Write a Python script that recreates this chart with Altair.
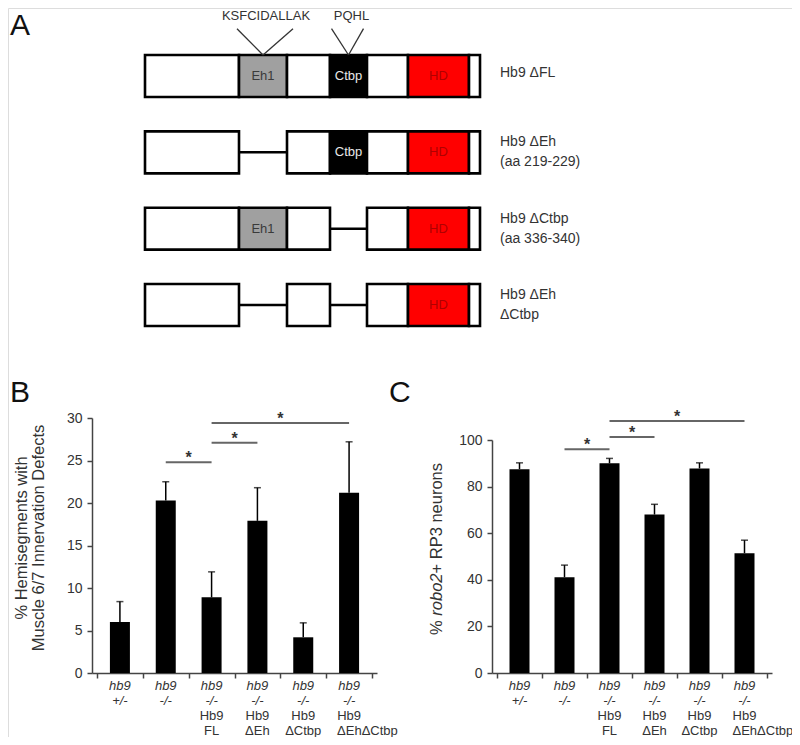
import altair as alt
import pandas as pd

# ---------------- Panel A: Hb9 constructs (schematic units along the protein) ----------------
construct_labels = ["Hb9 ΔFL", "Hb9 ΔEh\n(aa 219-229)", "Hb9 ΔCtbp\n(aa 336-340)", "Hb9 ΔEh\nΔCtbp"]
eh1_deleted = [False, True, False, True]
ctbp_deleted = [False, False, True, True]
piece_names = ["N", "Eh1", "L1", "Ctbp", "L2", "HD", "C"]
piece_starts = [0, 94, 142, 185, 222, 263, 324]
piece_ends = [94, 142, 185, 222, 263, 324, 335]
motif_texts = ["KSFCIDALLAK", "PQHL"]
motif_domains = ["Eh1", "Ctbp"]

# ---------------- Panels B and C ----------------
genotype_top = ["hb9"] * 6
genotype_bottom = ["+/-", "-/-", "-/-", "-/-", "-/-", "-/-"]
transgene_top = ["", "", "Hb9", "Hb9", "Hb9", "Hb9"]
transgene_bottom = ["", "", "FL", "ΔEh", "ΔCtbp", "ΔEhΔCtbp"]
b_means = [6.0, 20.3, 8.9, 17.9, 4.2, 21.2]
b_errors = [2.4, 2.2, 3.0, 3.9, 1.7, 6.0]
c_means = [87.5, 41.1, 90.0, 68.0, 87.8, 51.4]
c_errors = [2.7, 5.2, 2.1, 4.4, 2.4, 5.6]
sig_from = [1, 2, 2]
sig_to = [2, 3, 5]
b_sig_levels = [24.8, 27.1, 29.4]
c_sig_levels = [96.0, 101.3, 108.2]
b_ticks = [0, 5, 10, 15, 20, 25, 30]
c_ticks = [0, 20, 40, 60, 80, 100]

# ---------------- styles / layout ----------------
W, H = 784, 729
FONT = "Liberation Sans"
TXT = "#333333"
AX = "#444444"
BOX_HALF = 0.275
fills = {"N": "#ffffff", "Eh1": "#a0a0a0", "L1": "#ffffff", "Ctbp": "#000000",
         "L2": "#ffffff", "HD": "#ff0000", "C": "#ffffff"}
text_colors = {"Eh1": "#3a3a3a", "Ctbp": "#e8e8e8", "HD": "#b00000"}
motif_arms = {"KSFCIDALLAK": (26, 30), "PQHL": (17, 15)}
LONG_LABEL = 7  # labels longer than this are left-anchored (overflowing Excel-style labels)

xA = alt.Scale(domain=[0, 335], range=[137, 472])
yA = alt.Scale(domain=[0, 3], range=[68, 297])

pieces, gaps = [], []
for r in range(4):
    for name, s, e in zip(piece_names, piece_starts, piece_ends):
        deleted = (name == "Eh1" and eh1_deleted[r]) or (name == "Ctbp" and ctbp_deleted[r])
        if deleted:
            gaps.append({"row": r, "s": s, "e": e})
        else:
            pieces.append({"row": r, "s": s, "e": e, "mid": (s + e) / 2,
                           "top": r - BOX_HALF, "bot": r + BOX_HALF,
                           "fill": fills[name],
                           "label": name if name in text_colors else "",
                           "tcolor": text_colors.get(name, "#000000")})
pieces_df = pd.DataFrame(pieces)
gaps_df = pd.DataFrame(gaps)

motif_lines, motif_labels = [], []
for t, d in zip(motif_texts, motif_domains):
    k = piece_names.index(d)
    c = (piece_starts[k] + piece_ends[k]) / 2
    lft, rgt = motif_arms[t]
    motif_lines.append({"x": c - lft, "y": -0.62, "x2": c, "y2": -BOX_HALF})
    motif_lines.append({"x": c + rgt, "y": -0.62, "x2": c, "y2": -BOX_HALF})
    motif_labels.append({"x": c + 3, "y": -0.79, "t": t})
motif_lines_df = pd.DataFrame(motif_lines)
motif_labels_df = pd.DataFrame(motif_labels)
construct_df = pd.DataFrame({"row": list(range(4)), "label": construct_labels, "x": [355] * 4})
construct_df["multi"] = construct_df["label"].str.contains("\n")

noax = None
boxes = alt.Chart(pieces_df).mark_rect(stroke="black", strokeWidth=2.6).encode(
    x=alt.X("s:Q", scale=xA, axis=noax), x2="e:Q",
    y=alt.Y("top:Q", scale=yA, axis=noax), y2="bot:Q",
    fill=alt.Color("fill:N", scale=None))
gap_lines = alt.Chart(gaps_df).mark_rule(color="black", strokeWidth=2.5).encode(
    x=alt.X("s:Q", scale=xA, axis=noax), x2="e:Q",
    y=alt.Y("row:Q", scale=yA, axis=noax))
domain_text = alt.Chart(pieces_df[pieces_df["label"] != ""]).mark_text(
    fontSize=13, font=FONT, baseline="middle").encode(
    x=alt.X("mid:Q", scale=xA, axis=noax), y=alt.Y("row:Q", scale=yA, axis=noax),
    text="label:N", color=alt.Color("tcolor:N", scale=None))
motif_rules = alt.Chart(motif_lines_df).mark_rule(color="#333333", strokeWidth=1.3).encode(
    x=alt.X("x:Q", scale=xA, axis=noax), x2="x2:Q",
    y=alt.Y("y:Q", scale=yA, axis=noax), y2="y2:Q")
motif_text = alt.Chart(motif_labels_df).mark_text(
    fontSize=13, font=FONT, color=TXT, baseline="middle").encode(
    x=alt.X("x:Q", scale=xA, axis=noax), y=alt.Y("y:Q", scale=yA, axis=noax), text="t:N")
cl = dict(fontSize=14, font=FONT, color=TXT, align="left", baseline="middle",
          lineBreak="\n", lineHeight=20)
construct_single = alt.Chart(construct_df[~construct_df["multi"]]).mark_text(dy=-3, **cl).encode(
    x=alt.X("x:Q", scale=xA, axis=noax), y=alt.Y("row:Q", scale=yA, axis=noax), text="label:N")
construct_multi = alt.Chart(construct_df[construct_df["multi"]]).mark_text(dy=-10, **cl).encode(
    x=alt.X("x:Q", scale=xA, axis=noax), y=alt.Y("row:Q", scale=yA, axis=noax), text="label:N")
one = pd.DataFrame({"k": [0]})
letter_A = alt.Chart(one).mark_text(text="A", fontSize=30, font=FONT, color="#111111",
                                    align="left", baseline="alphabetic").encode(
    x=alt.value(2), y=alt.value(27))

panel_A = alt.layer(boxes, gap_lines, domain_text, motif_rules, motif_text,
                    construct_single, construct_multi, letter_A)


def bar_panel(means, errors, levels, ticks, x0, x1, y_top, letter, letter_x, title_layers):
    Y0 = 665
    xs = alt.Scale(domain=[-0.5, 5.5], range=[x0, x1])
    ys = alt.Scale(domain=[0, ticks[-1]], range=[Y0, y_top])
    x_axis = alt.Axis(orient="bottom", offset=-(H - Y0), values=[i - 0.5 for i in range(7)],
                      labels=False, title=None, grid=False, tickSize=5, tickWidth=1.5,
                      tickColor=AX, domainColor=AX, domainWidth=1.5)
    y_axis = alt.Axis(orient="left", offset=-x0, values=ticks, title=None, grid=False,
                      tickSize=5, tickWidth=1.5, tickColor=AX, domainColor=AX, domainWidth=1.5,
                      labelFontSize=14, labelColor=TXT, labelFont=FONT, labelPadding=5)
    df = pd.DataFrame({"i": list(range(6)), "mean": means,
                       "upper": [m + e for m, e in zip(means, errors)],
                       "geno": [a + "\n" + b for a, b in zip(genotype_top, genotype_bottom)],
                       "t1": transgene_top, "t2": transgene_bottom})
    df["long"] = df["t2"].str.len() > LONG_LABEL
    sig = pd.DataFrame({"a": sig_from, "b": sig_to, "lvl": levels,
                        "mid": [(a + b) / 2 for a, b in zip(sig_from, sig_to)]})
    X = lambda f: alt.X(f, scale=xs, axis=x_axis)
    Yy = lambda f: alt.Y(f, scale=ys, axis=y_axis)
    bars = alt.Chart(df).mark_bar(size=20, color="black").encode(x=X("i:Q"), y=Yy("mean:Q"))
    err = alt.Chart(df).mark_rule(color="black", strokeWidth=1.5).encode(
        x=X("i:Q"), y=Yy("mean:Q"), y2="upper:Q")
    caps = alt.Chart(df).mark_tick(orient="horizontal", size=7, thickness=1.5, color="black").encode(
        x=X("i:Q"), y=Yy("upper:Q"))
    sig_rules = alt.Chart(sig).mark_rule(color="#666666", strokeWidth=2).encode(
        x=X("a:Q"), x2="b:Q", y=Yy("lvl:Q"))
    stars = alt.Chart(sig).mark_text(text="*", fontSize=16, fontWeight="bold", font=FONT,
                                     color="#333333", baseline="alphabetic", dy=1).encode(
        x=X("mid:Q"), y=Yy("lvl:Q"))
    lab = dict(fontSize=13, font=FONT, color=TXT, baseline="alphabetic")
    geno = alt.Chart(df).mark_text(fontStyle="italic", lineBreak="\n", lineHeight=15, **lab).encode(
        x=X("i:Q"), y=alt.value(682), text="geno:N")
    trans1 = alt.Chart(df).mark_text(**lab).encode(x=X("i:Q"), y=alt.value(712), text="t1:N")
    trans2 = alt.Chart(df[~df["long"]]).mark_text(**lab).encode(
        x=X("i:Q"), y=alt.value(727), text="t2:N")
    trans2_long = alt.Chart(df[df["long"]]).mark_text(align="left", dx=-12, **lab).encode(
        x=X("i:Q"), y=alt.value(727), text="t2:N")
    let = alt.Chart(one).mark_text(text=letter, fontSize=30, font=FONT, color="#111111",
                                   align="left", baseline="alphabetic").encode(
        x=alt.value(letter_x), y=alt.value(394))
    return alt.layer(bars, err, caps, sig_rules, stars, geno, trans1, trans2, trans2_long,
                     let, *title_layers)


title_B = alt.Chart(one).mark_text(
    text="% Hemisegments with\nMuscle 6/7 Innervation Defects", angle=270, fontSize=16.5,
    font=FONT, color=TXT, align="center", baseline="middle", lineBreak="\n", lineHeight=16.5).encode(
    x=alt.value(14), y=alt.value(530))

C_BOTTOM = 627
title_C_parts = [("%", "normal", 0.0), ("robo2", "italic", 19.3), ("+ RP3 neurons", "normal", 61.5)]
title_C = []
for txt, sty, off in title_C_parts:
    title_C.append(alt.Chart(one).mark_text(
        text=txt, angle=270, fontSize=16.5, font=FONT, fontStyle=sty, color=TXT,
        align="left", baseline="middle").encode(
        x=alt.value(429), y=alt.value(C_BOTTOM - off)))

panel_B = bar_panel(b_means, b_errors, b_sig_levels, b_ticks, 84, 369, 410, "B", 2, [title_B])
panel_C = bar_panel(c_means, c_errors, c_sig_levels, c_ticks, 484, 764, 432, "C", 381, title_C)

chart = alt.layer(panel_A, panel_B, panel_C).resolve_scale(
    x="independent", y="independent").properties(
    width=W, height=H, padding=0, autosize=alt.AutoSizeParams(type="none")
).configure_view(stroke=None).configure(font=FONT)

chart.save("out.html", embed_options={"renderer": "svg", "actions": False})
